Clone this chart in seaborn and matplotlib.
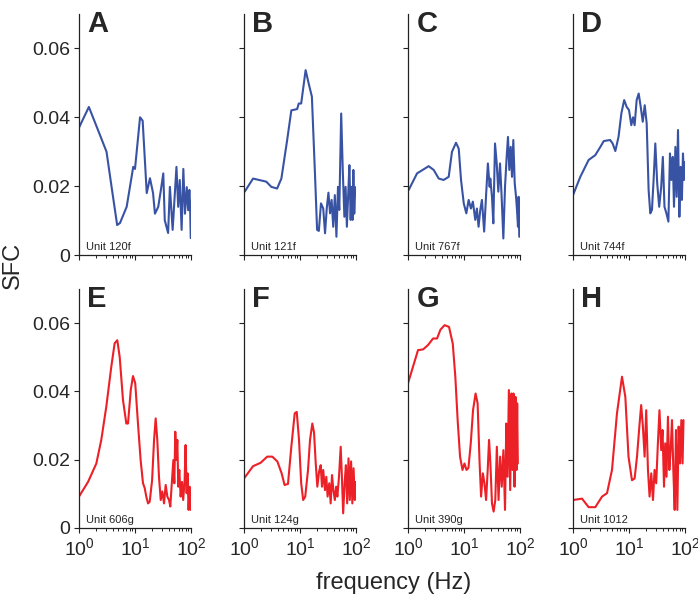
import matplotlib
matplotlib.use("Agg")
import matplotlib.pyplot as plt
import seaborn as sns
import pandas as pd
from matplotlib.ticker import FixedLocator, FixedFormatter, LogLocator, NullFormatter

# ---------------- data ----------------
panel_letters = ["A", "B", "C", "D", "E", "F", "G", "H"]
unit_labels = ["Unit 120f", "Unit 121f", "Unit 767f", "Unit 744f",
               "Unit 606g", "Unit 124g", "Unit 390g", "Unit 1012"]

freq_A = [1.0, 1.5, 2.1, 3.1, 3.8, 4.8, 5.4, 7.1, 9.3, 10, 12.3, 13.7, 16.2, 18.5, 21, 22.7, 26, 29, 32,
          34, 39, 42, 47, 55, 59, 63, 68, 73, 78, 84, 89, 93.5, 96, 99]
sfc_A = [0.037, 0.043, 0.037, 0.030, 0.020, 0.0087, 0.0093, 0.014, 0.0256, 0.025, 0.040, 0.039, 0.018,
         0.0223, 0.018, 0.012, 0.014, 0.0189, 0.0237, 0.0101, 0.0064, 0.0198, 0.0073, 0.0256, 0.014,
         0.0218, 0.0073, 0.025, 0.012, 0.0197, 0.013, 0.0189, 0.0151, 0.0049]

freq_B = [1.03, 1.45, 2.5, 3.07, 3.9, 4.65, 5.9, 7.0, 8.9, 9.5, 10.5, 12.6, 14.3, 16.3, 18.6, 20.2, 21.7,
          23.7, 26, 28, 30.1, 32.2, 34.4, 36.7, 39.2, 41.9, 44.7, 47.7, 50.3, 54.4, 58, 62, 65.2, 68.7,
          72.4, 76.2, 80.3, 83.6, 87, 89.7, 93, 97]
sfc_B = [0.0184, 0.0222, 0.0213, 0.0198, 0.0193, 0.0222, 0.0334, 0.042, 0.0424, 0.044, 0.044, 0.0537,
         0.0498, 0.046, 0.0227, 0.0073, 0.0070, 0.015, 0.0135, 0.0063, 0.0137, 0.0181, 0.0121, 0.016,
         0.0082, 0.0174, 0.0053, 0.0198, 0.0131, 0.0411, 0.0247, 0.0111, 0.0198, 0.0082, 0.0172, 0.0261,
         0.0102, 0.0198, 0.0102, 0.0247, 0.012, 0.0197]

freq_C = [1.03, 1.45, 2.34, 2.88, 3.54, 4.33, 5.33, 6.1, 7.2, 8.05, 8.85, 9.9, 11, 12.1, 13.3, 14.4,
          15.9, 17, 18.2, 19.5, 20.9, 22.9, 24.9, 26.7, 28.7, 29.5, 31.6, 33.4, 35.8, 38.4, 41, 44, 47,
          50.4, 54, 57.8, 61, 64.4, 68.3, 72, 76, 80.5, 85, 88.5, 92, 94.5, 97]
sfc_C = [0.0189, 0.0237, 0.0258, 0.0247, 0.0222, 0.0218, 0.0227, 0.030, 0.0326, 0.0309, 0.0218, 0.015,
         0.0121, 0.016, 0.0135, 0.0155, 0.0102, 0.0135, 0.0082, 0.013, 0.016, 0.0068, 0.0179, 0.0266,
         0.0198, 0.0222, 0.0169, 0.0092, 0.0324, 0.0266, 0.0184, 0.0266, 0.0169, 0.0048, 0.0198, 0.0285,
         0.0343, 0.0247, 0.0314, 0.0227, 0.0334, 0.0208, 0.0169, 0.013, 0.0082, 0.0169, 0.0053]

freq_D = [1.0, 1.35, 1.9, 2.5, 3.08, 3.54, 4.6, 5.1, 5.7, 6.5, 7.3, 8.2, 9.1, 10, 11, 11.8, 12.6, 13.7,
          14.9, 16.2, 17.6, 19.1, 20.7, 22.4, 24, 25.7, 27.5, 29.5, 31.9, 34.6, 37.6, 40.2, 43, 46.6, 50.5,
          53.9, 57, 60.4, 63.6, 67.3, 71, 75, 79.3, 83.6, 88, 92, 96, 100]
sfc_D = [0.0174, 0.0227, 0.0276, 0.029, 0.0314, 0.0331, 0.0334, 0.0324, 0.0302, 0.0343, 0.0411, 0.045,
         0.043, 0.0421, 0.0377, 0.040, 0.0377, 0.045, 0.0469, 0.043, 0.0387, 0.0435, 0.0382, 0.0189,
         0.0121, 0.0131, 0.0218, 0.0324, 0.0208, 0.014, 0.0198, 0.0285, 0.014, 0.0121, 0.0097, 0.0295,
         0.0218, 0.0285, 0.014, 0.0314, 0.0169, 0.0363, 0.0111, 0.0256, 0.016, 0.0295, 0.0218, 0.027]

freq_E = [1.0, 1.45, 2.04, 2.5, 3.07, 3.77, 4.33, 4.83, 5.33, 6.1, 7.0, 7.5, 8.4, 9.2, 10.1, 11.3, 12.6,
          13.9, 14.9, 15.9, 17.1, 18.3, 20.2, 21.9, 23.4, 25, 26.8, 28.8, 30.7, 33, 35.3, 37.8, 40.5,
          42.7, 45.8, 48.4, 50.4, 52.4, 54.6, 57, 59.3, 61.8, 65.3, 69, 72.5, 77, 80, 83.5, 86.8, 90.5,
          94.3, 98.3]
sfc_E = [0.0092, 0.0135, 0.0189, 0.0258, 0.0355, 0.0472, 0.0541, 0.055, 0.0501, 0.0375, 0.0306, 0.0306,
         0.0404, 0.0445, 0.0424, 0.0306, 0.0199, 0.0131, 0.0117, 0.0092, 0.0072, 0.0077, 0.014, 0.0258,
         0.0321, 0.0258, 0.015, 0.0082, 0.0107, 0.0072, 0.0126, 0.0092, 0.0082, 0.0063, 0.014, 0.0199,
         0.0131, 0.0282, 0.0199, 0.0258, 0.0121, 0.017, 0.0092, 0.0135, 0.0082, 0.014, 0.0243, 0.0102,
         0.016, 0.0053, 0.0121, 0.0053]

freq_F = [1.0, 1.45, 1.98, 2.6, 3.2, 3.94, 4.7, 5.3, 6.1, 7.0, 8.05, 8.75, 9.6, 10.5, 11.4, 12.4, 13.9,
          15.1, 16.6, 17.8, 19.1, 20.4, 21.9, 23.4, 24.7, 26, 27.9, 29.5, 31.1, 33.3, 35.3, 37.3, 39.4,
          41.9, 44.2, 46.5, 49.7, 53.3, 56, 59, 62.6, 66, 69.6, 73.5, 77.5, 81.7, 86, 90.5, 95.3, 99]
sfc_F = [0.0145, 0.0181, 0.0191, 0.0209, 0.0209, 0.0195, 0.016, 0.0126, 0.0129, 0.0238, 0.0336, 0.034,
         0.0258, 0.0131, 0.0082, 0.0092, 0.017, 0.0258, 0.0306, 0.028, 0.0189, 0.0121, 0.0165, 0.0184,
         0.0121, 0.017, 0.0111, 0.015, 0.0092, 0.0131, 0.0072, 0.0155, 0.0111, 0.0082, 0.0121, 0.0092,
         0.015, 0.0238, 0.015, 0.0043, 0.0131, 0.0184, 0.0072, 0.0204, 0.0082, 0.0195, 0.0072, 0.0175,
         0.0082, 0.0135]

freq_G = [1.0, 1.51, 1.86, 2.28, 2.8, 3.3, 3.8, 4.5, 5.4, 6.3, 7.0, 7.7, 8.5, 9.4, 10.2, 11.1, 12, 13.2,
          14.5, 16.1, 17.5, 19, 20.2, 21.7, 23.2, 24.8, 26.5, 28, 29.6, 31.6, 33.8, 36.2, 38.6, 41.4,
          44.2, 47.2, 50.5, 54, 56.9, 60, 63.3, 66.8, 70.5, 73.5, 76.6, 79.8, 83.1, 86.6, 89, 91.5]
sfc_G = [0.0424, 0.0521, 0.0523, 0.0536, 0.0555, 0.0555, 0.0581, 0.0594, 0.0589, 0.054, 0.0443, 0.0316,
         0.0209, 0.017, 0.0189, 0.017, 0.0176, 0.0248, 0.0345, 0.0394, 0.0365, 0.0189, 0.0092, 0.016,
         0.0131, 0.0082, 0.017, 0.0258, 0.0189, 0.0072, 0.0048, 0.0082, 0.0238, 0.0082, 0.0209, 0.0121,
         0.0228, 0.0053, 0.0306, 0.015, 0.0404, 0.0111, 0.0394, 0.017, 0.0394, 0.0121, 0.0384, 0.017,
         0.0365, 0.0189]

freq_H = [1.0, 1.45, 1.9, 2.5, 3.3, 4.05, 4.97, 6.1, 7.5, 8.6, 9.8, 11.3, 12.6, 13.9, 15.3, 16.5, 17.7,
          19, 20.3, 21.8, 23.3, 25, 26.8, 28.6, 30.6, 32.8, 35, 37.6, 39.7, 42.2, 44.3, 46.8, 49.6, 52.5,
          55.4, 58.6, 61.9, 65.4, 69, 73, 77, 81.5, 86, 90.5, 94]
sfc_H = [0.0082, 0.0086, 0.0061, 0.0061, 0.0092, 0.0102, 0.017, 0.0336, 0.0443, 0.0384, 0.0209, 0.014,
         0.0145, 0.0209, 0.0297, 0.036, 0.0297, 0.0209, 0.0345, 0.017, 0.0092, 0.016, 0.0082, 0.017,
         0.0131, 0.0248, 0.0345, 0.0228, 0.0287, 0.0121, 0.0248, 0.015, 0.0326, 0.017, 0.0228, 0.0316,
         0.017, 0.0053, 0.0287, 0.0053, 0.0297, 0.0189, 0.0316, 0.0189, 0.0316]

freqs = [freq_A, freq_B, freq_C, freq_D, freq_E, freq_F, freq_G, freq_H]
sfcs = [sfc_A, sfc_B, sfc_C, sfc_D, sfc_E, sfc_F, sfc_G, sfc_H]

y_ticks = [0, 0.02, 0.04, 0.06]
y_ticklabels = ["0", "0.02", "0.04", "0.06"]

BLUE = "#3953a4"
RED = "#ec2027"

# ---------------- style ----------------
sns.set_style("ticks")
plt.rcParams["font.family"] = ["Liberation Sans", "DejaVu Sans"]
plt.rcParams["mathtext.fontset"] = "custom"
plt.rcParams["mathtext.rm"] = "Liberation Sans"
plt.rcParams["mathtext.it"] = "Liberation Sans:italic"
plt.rcParams["mathtext.bf"] = "Liberation Sans:bold"

fig = plt.figure(figsize=(6.98, 6.0), dpi=100)

col_left = [79, 244, 408, 573]
ax_w = 112
rows = [(14, 255), (289, 528)]

for i in range(8):
    r, c = divmod(i, 4)
    top, bot = rows[r]
    ax = fig.add_axes([col_left[c] / 698, 1 - bot / 600, ax_w / 698, (bot - top) / 600])
    df = pd.DataFrame({"freq": freqs[i], "sfc": sfcs[i]})
    sns.lineplot(data=df, x="freq", y="sfc", ax=ax, color=BLUE if r == 0 else RED,
                 linewidth=1.5, estimator=None, sort=False)
    ax.set_xscale("log")
    ax.set_xlim(1, 100)
    ax.set_ylim(0, 0.07)
    ax.set_xlabel("")
    ax.set_ylabel("")
    sns.despine(ax=ax)
    for s in ("left", "bottom"):
        ax.spines[s].set_linewidth(0.9)
        ax.spines[s].set_color("#222222")
    ax.yaxis.set_major_locator(FixedLocator(y_ticks))
    ax.xaxis.set_major_locator(LogLocator(base=10, numticks=5))
    ax.xaxis.set_minor_locator(LogLocator(base=10, subs=range(2, 10), numticks=10))
    ax.xaxis.set_minor_formatter(NullFormatter())
    ax.tick_params(axis="both", which="major", direction="out", length=3.5, width=0.8,
                   color="#222222", labelsize=14, pad=3)
    ax.tick_params(axis="x", which="minor", direction="out", length=2, width=0.7, color="#222222")
    if c == 0:
        ax.yaxis.set_major_formatter(FixedFormatter(y_ticklabels))
    else:
        ax.set_yticklabels([])
    if r == 0:
        ax.set_xticklabels([])
    ax.text(0.075, 0.925, panel_letters[i], transform=ax.transAxes, fontsize=21,
            fontweight="bold", va="baseline", ha="left")
    ax.text(0.06, 0.02, unit_labels[i], transform=ax.transAxes, fontsize=8,
            va="baseline", ha="left")

fig.text(394 / 698, 0.029, "frequency (Hz)", ha="center", va="center", fontsize=17)
fig.text(0.018, 0.558, "SFC", ha="center", va="center", rotation=90, fontsize=17)

fig.savefig("out.png", dpi=100)
